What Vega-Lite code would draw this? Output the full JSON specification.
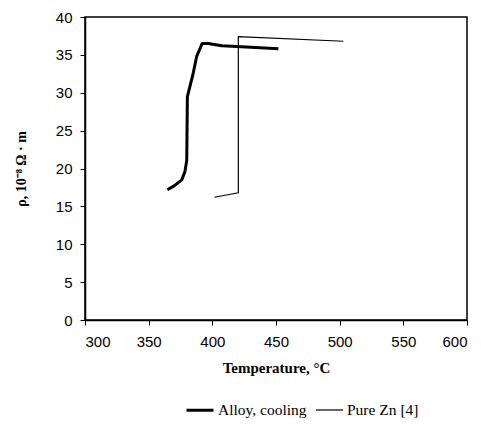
{
  "$schema": "https://vega.github.io/schema/vega-lite/v6.json",
  "autosize": "none",
  "width": 382,
  "height": 303,
  "padding": {"left": 85, "top": 17, "right": 14, "bottom": 110},
  "background": "white",
  "config": {
    "view": {"stroke": "black", "strokeWidth": 1.5},
    "axis": {"grid": false, "domainColor": "black", "tickColor": "black", "domainWidth": 1.5, "labelColor": "black", "titleColor": "black", "labelFont": "Liberation Sans", "labelFontSize": 15, "titleFont": "Liberation Serif", "titleFontSize": 15, "titleFontWeight": "bold", "tickSize": 5}
  },
  "data": {"values": [
    {"series": "Alloy, cooling", "o": 1, "T": 364.7, "rho": 17.2},
    {"series": "Alloy, cooling", "o": 2, "T": 370, "rho": 17.7},
    {"series": "Alloy, cooling", "o": 3, "T": 376, "rho": 18.5},
    {"series": "Alloy, cooling", "o": 4, "T": 378.5, "rho": 19.6},
    {"series": "Alloy, cooling", "o": 5, "T": 379.9, "rho": 21.1},
    {"series": "Alloy, cooling", "o": 6, "T": 380.4, "rho": 29.5},
    {"series": "Alloy, cooling", "o": 7, "T": 385, "rho": 32.6},
    {"series": "Alloy, cooling", "o": 8, "T": 387.7, "rho": 34.8},
    {"series": "Alloy, cooling", "o": 9, "T": 392, "rho": 36.5},
    {"series": "Alloy, cooling", "o": 10, "T": 396.9, "rho": 36.5},
    {"series": "Alloy, cooling", "o": 11, "T": 407.4, "rho": 36.2},
    {"series": "Alloy, cooling", "o": 12, "T": 419.2, "rho": 36.1},
    {"series": "Alloy, cooling", "o": 13, "T": 451.9, "rho": 35.8},
    {"series": "Pure Zn [4]", "o": 1, "T": 401.6, "rho": 16.2},
    {"series": "Pure Zn [4]", "o": 2, "T": 420.4, "rho": 16.8},
    {"series": "Pure Zn [4]", "o": 3, "T": 420.4, "rho": 37.4},
    {"series": "Pure Zn [4]", "o": 4, "T": 502.9, "rho": 36.8}
  ]},
  "mark": {"type": "line", "strokeCap": "butt", "strokeJoin": "round"},
  "encoding": {
    "x": {"field": "T", "type": "quantitative", "scale": {"domain": [300, 600], "nice": false, "zero": false}, "axis": {"values": [300, 350, 400, 450, 500, 550, 600], "title": "Temperature, °C", "titlePadding": 11, "labelPadding": 9}},
    "y": {"field": "rho", "type": "quantitative", "scale": {"domain": [0, 40], "nice": false}, "axis": {"values": [0, 5, 10, 15, 20, 25, 30, 35, 40], "title": "ρ, 10⁻⁸ Ω · m", "titleFontSize": 14, "titlePadding": 27, "labelPadding": 8}},
    "order": {"field": "o", "type": "quantitative"},
    "color": {"field": "series", "type": "nominal", "scale": {"domain": ["Alloy, cooling", "Pure Zn [4]"], "range": ["black", "black"]},
      "legend": {"orient": "none", "direction": "horizontal", "legendX": 100, "legendY": 378, "title": null, "symbolType": "stroke", "symbolSize": 729, "labelFont": "Liberation Serif", "labelFontSize": 15.5, "labelColor": "black", "labelOffset": 3, "columnPadding": 6, "symbolStrokeColor": "black"}},
    "strokeWidth": {"field": "series", "type": "nominal", "scale": {"domain": ["Alloy, cooling", "Pure Zn [4]"], "range": [3, 1.2]}},
    "detail": {"field": "series"}
  }
}
